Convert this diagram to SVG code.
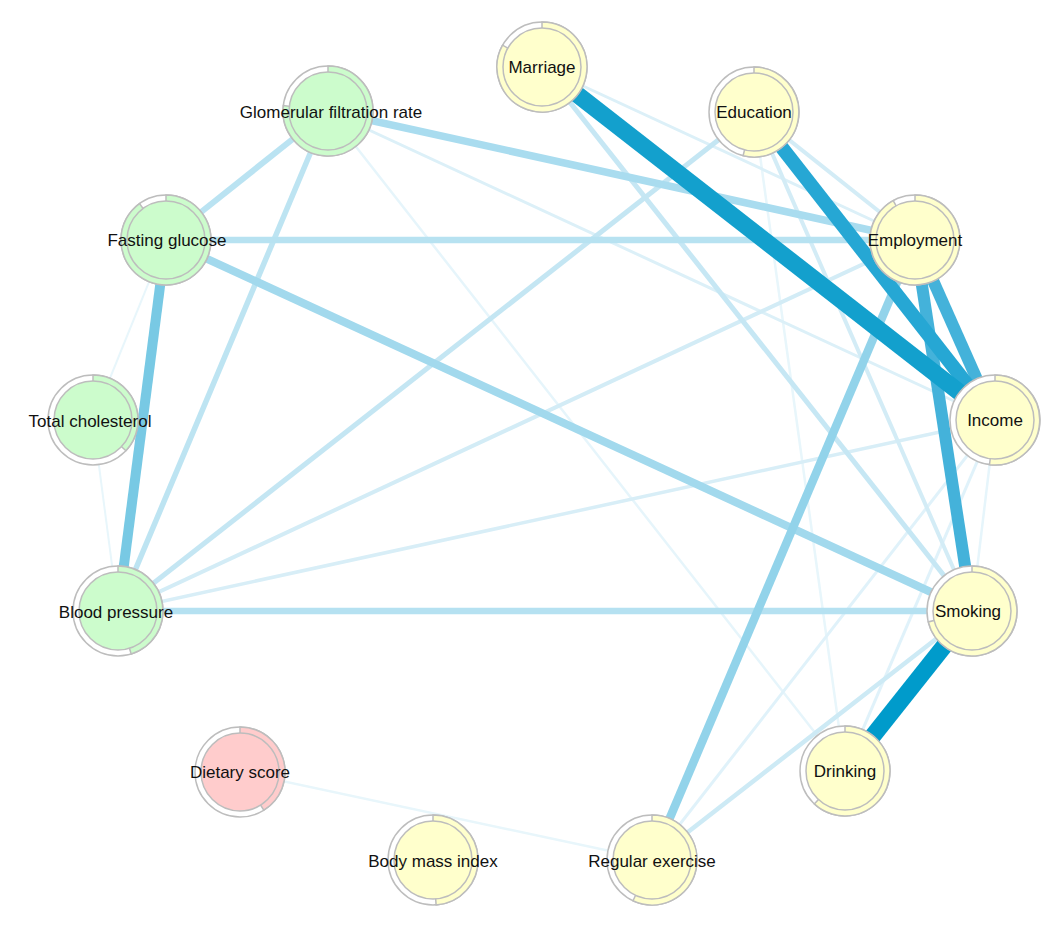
<svg xmlns="http://www.w3.org/2000/svg" width="1060" height="929" viewBox="0 0 1060 929">
<style>
.o{fill:#fff;stroke:#bdbdbd;stroke-width:1.5}
.w,.i{stroke:#bdbdbd;stroke-width:1.5}
.g{fill:#ccfccc}.y{fill:#ffffcc}.r{fill:#ffcccc}
text{font-family:"Liberation Sans",Arial,sans-serif;font-size:17px;fill:#111;text-anchor:middle;dominant-baseline:central}
#edges line{stroke-linecap:butt}
</style>
<rect width="1060" height="929" fill="#fff"/>
<g id="edges">
<line x1="328" y1="111" x2="845" y2="771" stroke="#e6f5fb" stroke-width="2.5"/>
<line x1="754" y1="112" x2="845" y2="771" stroke="#e8f6fb" stroke-width="2.5"/>
<line x1="166" y1="240" x2="93" y2="420" stroke="#e8f6fb" stroke-width="2"/>
<line x1="93" y1="420" x2="118" y2="611" stroke="#e8f6fb" stroke-width="2"/>
<line x1="240" y1="772" x2="652" y2="860" stroke="#e8f6fb" stroke-width="2.5"/>
<line x1="995" y1="420" x2="972" y2="611" stroke="#e6f5fb" stroke-width="2.5"/>
<line x1="995" y1="420" x2="845" y2="771" stroke="#e0f2fa" stroke-width="3"/>
<line x1="995" y1="420" x2="652" y2="860" stroke="#e0f2fa" stroke-width="3"/>
<line x1="328" y1="111" x2="995" y2="420" stroke="#dcf0f8" stroke-width="3"/>
<line x1="542" y1="67" x2="915" y2="240" stroke="#dcf0f8" stroke-width="3"/>
<line x1="118" y1="611" x2="995" y2="420" stroke="#d8eef7" stroke-width="3.5"/>
<line x1="118" y1="611" x2="915" y2="240" stroke="#d3ecf6" stroke-width="4"/>
<line x1="754" y1="112" x2="972" y2="611" stroke="#d3ecf6" stroke-width="4"/>
<line x1="754" y1="112" x2="915" y2="240" stroke="#d3ecf6" stroke-width="4"/>
<line x1="972" y1="611" x2="652" y2="860" stroke="#cdeaf5" stroke-width="4.5"/>
<line x1="542" y1="67" x2="972" y2="611" stroke="#c6e7f4" stroke-width="5"/>
<line x1="118" y1="611" x2="754" y2="112" stroke="#c4e6f3" stroke-width="5"/>
<line x1="328" y1="111" x2="118" y2="611" stroke="#bde4f2" stroke-width="5.5"/>
<line x1="328" y1="111" x2="166" y2="240" stroke="#bae3f2" stroke-width="6"/>
<line x1="166" y1="240" x2="915" y2="240" stroke="#b7e2f1" stroke-width="6.5"/>
<line x1="118" y1="611" x2="972" y2="611" stroke="#b5e1f1" stroke-width="6.5"/>
<line x1="328" y1="111" x2="915" y2="240" stroke="#a9dcef" stroke-width="7.5"/>
<line x1="166" y1="240" x2="972" y2="611" stroke="#a2d9ed" stroke-width="8"/>
<line x1="915" y1="240" x2="652" y2="860" stroke="#92d3ea" stroke-width="8.5"/>
<line x1="166" y1="240" x2="118" y2="611" stroke="#78c9e4" stroke-width="10"/>
<line x1="915" y1="240" x2="972" y2="611" stroke="#44b2da" stroke-width="12"/>
<line x1="915" y1="240" x2="995" y2="420" stroke="#44b2da" stroke-width="12"/>
<line x1="754" y1="112" x2="995" y2="420" stroke="#26a7d4" stroke-width="14"/>
<line x1="542" y1="67" x2="995" y2="420" stroke="#13a0cd" stroke-width="17"/>
<line x1="972" y1="611" x2="845" y2="771" stroke="#009bcb" stroke-width="17"/>
</g>
<g id="n-marriage"><circle class="o" cx="542" cy="67" r="45"/><path class="w y" d="M542 67V22A45 45 0 1 1 502.6 45.2Z"/><circle class="i y" cx="542" cy="67" r="39"/><text x="542" y="67">Marriage</text></g>
<g id="n-education"><circle class="o" cx="754" cy="112" r="45"/><path class="w y" d="M754 112V67A45 45 0 1 1 743.1 155.7Z"/><circle class="i y" cx="754" cy="112" r="39"/><text x="754" y="112">Education</text></g>
<g id="n-employment"><circle class="o" cx="915" cy="240" r="45"/><path class="w y" d="M915 240V195A45 45 0 1 1 893.2 200.6Z"/><circle class="i y" cx="915" cy="240" r="39"/><text x="915" y="240">Employment</text></g>
<g id="n-income"><circle class="o" cx="995" cy="420" r="45"/><path class="w y" d="M995 420V375A45 45 0 1 1 989.5 464.7Z"/><circle class="i y" cx="995" cy="420" r="39"/><text x="995" y="420">Income</text></g>
<g id="n-smoking"><circle class="o" cx="972" cy="611" r="45"/><path class="w y" d="M972 611V566A45 45 0 1 1 928.3 621.9Z"/><circle class="i y" cx="972" cy="611" r="39"/><text x="968" y="611">Smoking</text></g>
<g id="n-drinking"><circle class="o" cx="845" cy="771" r="45"/><path class="w y" d="M845 771V726A45 45 0 1 1 814.3 803.9Z"/><circle class="i y" cx="845" cy="771" r="39"/><text x="845" y="771">Drinking</text></g>
<g id="n-exercise"><circle class="o" cx="652" cy="860" r="45"/><path class="w y" d="M652 860V815A45 45 0 1 1 633 900.8Z"/><circle class="i y" cx="652" cy="860" r="39"/><text x="652" y="861">Regular exercise</text></g>
<g id="n-bmi"><circle class="o" cx="433" cy="860" r="45"/><path class="w y" d="M433 860V815A45 45 0 0 1 436.1 904.9Z"/><circle class="i y" cx="433" cy="860" r="39"/><text x="433" y="861">Body mass index</text></g>
<g id="n-diet"><circle class="o" cx="240" cy="772" r="45"/><path class="w r" d="M240 772V727A45 45 0 0 1 263.8 810.2Z"/><circle class="i r" cx="240" cy="772" r="39"/><text x="240" y="772">Dietary score</text></g>
<g id="n-bp"><circle class="o" cx="118" cy="611" r="45"/><path class="w g" d="M118 611V566A45 45 0 0 1 131.2 654Z"/><circle class="i g" cx="118" cy="611" r="39"/><text x="116" y="612">Blood pressure</text></g>
<g id="n-tc"><circle class="o" cx="93" cy="420" r="45"/><path class="w g" d="M93 420V375A45 45 0 0 1 125.9 450.7Z"/><circle class="i g" cx="93" cy="420" r="39"/><text x="90" y="421">Total cholesterol</text></g>
<g id="n-fg"><circle class="o" cx="166" cy="240" r="45"/><path class="w g" d="M166 240V195A45 45 0 1 1 139.5 203.6Z"/><circle class="i g" cx="166" cy="240" r="39"/><text x="167" y="240">Fasting glucose</text></g>
<g id="n-gfr"><circle class="o" cx="328" cy="111" r="45"/><path class="w g" d="M328 111V66A45 45 0 1 1 283.3 105.5Z"/><circle class="i g" cx="328" cy="111" r="39"/><text x="331" y="112">Glomerular filtration rate</text></g>
</svg>
